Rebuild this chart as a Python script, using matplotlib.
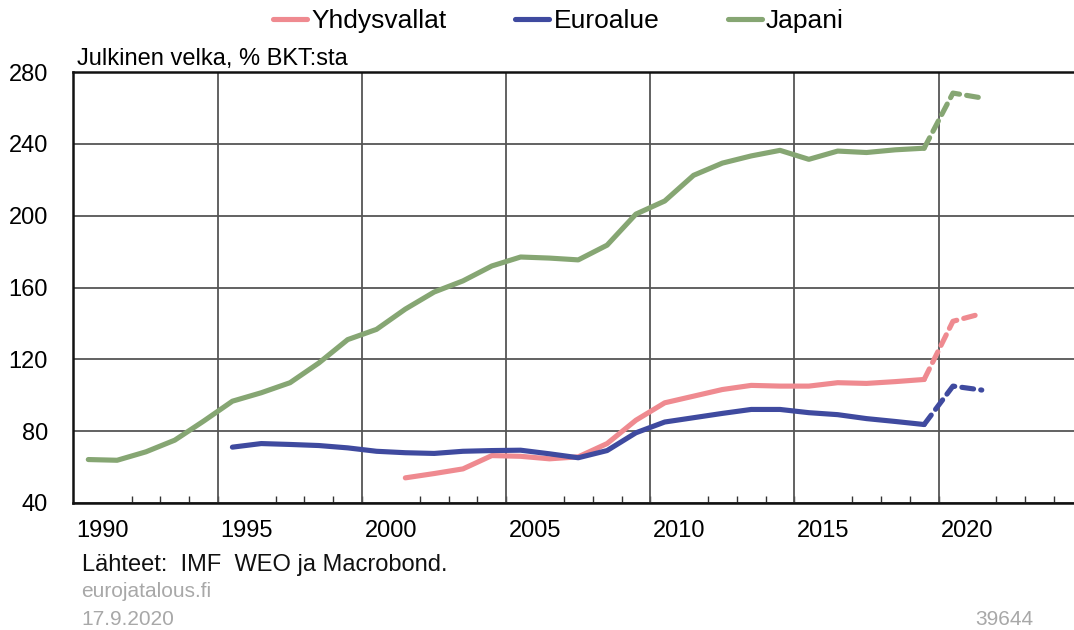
import numpy as np
import matplotlib
matplotlib.use('Agg')
import matplotlib.pyplot as plt

plt.rcParams['font.family'] = ['Liberation Sans', 'DejaVu Sans']

# julkinen velka, % BKT:sta (IMF WEO), 2020-2021 ennuste
years_jp = list(range(1990, 2022))
japan = [64.2, 63.8, 68.5, 75.0, 85.6, 96.7, 101.4, 107.0, 118.0, 131.0,
         136.7, 148.0, 157.5, 163.7, 172.0, 177.0, 176.4, 175.4, 183.6, 200.9,
         208.2, 222.5, 229.3, 233.3, 236.4, 231.4, 236.0, 235.2, 236.7, 237.6,
         268.3, 265.6]

years_ea = list(range(1995, 2022))
euro = [71.1, 73.1, 72.6, 72.0, 70.7, 68.8, 68.0, 67.6, 68.8, 69.2,
        69.4, 67.4, 65.2, 69.2, 79.1, 85.1, 87.5, 89.9, 92.1, 92.1,
        90.3, 89.2, 87.0, 85.4, 83.7, 105.1, 102.9]

years_us = list(range(2001, 2022))
usa = [54.0, 56.4, 59.0, 66.4, 66.0, 64.6, 65.7, 73.1, 86.1, 95.8,
       99.5, 103.2, 105.5, 105.1, 105.1, 107.0, 106.6, 107.6, 108.8, 141.2,
       145.5]

last_actual = 2019
label_years = [1990, 1995, 2000, 2005, 2010, 2015, 2020]
y_ticks = [40, 80, 120, 160, 200, 240, 280]

series = [
    ('Yhdysvallat', years_us, usa, '#ef8a90'),
    ('Euroalue', years_ea, euro, '#3f4a9f'),
    ('Japani', years_jp, japan, '#86a673'),
]

fig = plt.figure(figsize=(10.74, 6.3), dpi=100)
ax = fig.add_axes([0.068, 0.2016, 0.932, 0.684])

lw = 3.7
for name, yrs, vals, col in series:
    yrs = np.array(yrs)
    vals = np.array(vals)
    act = yrs <= last_actual
    fc = yrs >= last_actual
    ax.plot(yrs[act], vals[act], color=col, lw=lw, label=name,
            solid_capstyle='round', solid_joinstyle='round', zorder=3)
    ax.plot(yrs[fc], vals[fc], color=col, lw=lw, dashes=(2.3, 1.4),
            dash_capstyle='round', zorder=3)

ax.set_xlim(1989.47, 2024.2)
ax.set_ylim(40, 280)

ax.set_yticks(y_ticks)
ax.set_yticklabels([str(v) for v in y_ticks], fontsize=17)
ax.yaxis.grid(True, color='#555555', lw=1.3)
ax.set_axisbelow(True)

ax.set_xticks([y + 0.5 for y in label_years])
ax.set_xticklabels([str(y) for y in label_years], fontsize=17)
ax.set_xticks(np.arange(1990.5, 2024, 1.0), minor=True)
for y in label_years[1:]:
    ax.axvline(y - 0.5, color='#555555', lw=1.3, zorder=1)

ax.tick_params(axis='y', length=0, pad=18)
ax.tick_params(axis='x', which='major', length=0, pad=12)
ax.tick_params(axis='x', which='minor', direction='in', length=5,
               width=1, color='#333333')

ax.spines['right'].set_visible(False)
for s in ['left', 'top', 'bottom']:
    ax.spines[s].set_linewidth(1.8)
    ax.spines[s].set_color('#111111')

ax.text(0.004, 1.005, 'Julkinen velka, % BKT:sta', transform=ax.transAxes,
        fontsize=17, ha='left', va='bottom')

handles, labels = ax.get_legend_handles_labels()
fig.legend(handles, labels, loc='center', bbox_to_anchor=(0.52, 0.966),
           ncol=3, frameon=False, fontsize=19, handlelength=1.3,
           handletextpad=0.15, columnspacing=2.6)

fig.text(0.076, 0.103, 'Lähteet:  IMF  WEO ja Macrobond.', fontsize=17,
         ha='left', va='center', color='#111111')
fig.text(0.076, 0.061, 'eurojatalous.fi', fontsize=15, ha='left',
         va='center', color='#a8a8a8')
fig.text(0.076, 0.017, '17.9.2020', fontsize=15, ha='left', va='center',
         color='#a8a8a8')
fig.text(0.962, 0.017, '39644', fontsize=15, ha='right', va='center',
         color='#a8a8a8')

fig.savefig('out.png', dpi=100)
